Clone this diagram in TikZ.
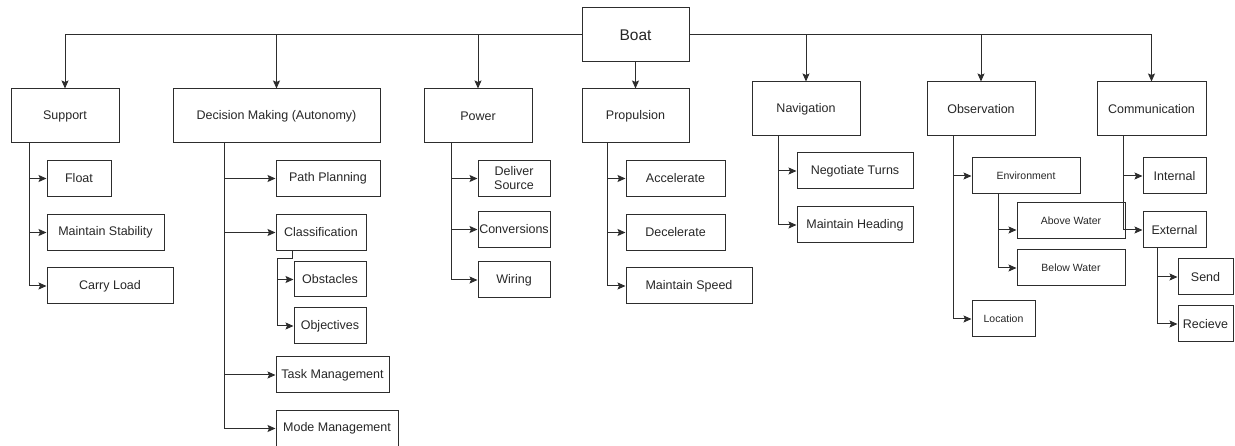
\documentclass[tikz,border=0pt]{standalone}
\usepackage{fontspec}
\setmainfont{Liberation Sans}
\usetikzlibrary{arrows.meta}
\usetikzlibrary{calc}

\definecolor{edgegray}{RGB}{45,45,45}

\begin{document}
\begin{tikzpicture}[x=1pt,y=-1pt,
  box/.style={rectangle,draw=edgegray,line width=1pt,inner sep=0pt,minimum height=36pt,text=black!85,font=\fontsize{12.5}{14}\selectfont,align=center},
  topbox/.style={box,minimum height=54pt},
  smalltext/.style={font=\fontsize{10.5}{12}\selectfont},
  link/.style={draw=edgegray,line width=1pt},
  arr/.style={link,-{Stealth[length=8pt,width=7pt,inset=1.5pt]}}]
\useasboundingbox (0,0) rectangle (1235,446);

\node (boat) [topbox,minimum width=107pt,font=\fontsize{15.5}{17}\selectfont] at (635.5,35) {Boat};
\node (support) [topbox,minimum width=108pt] at (65,116) {Support};
\node (dm) [topbox,minimum width=207pt] at (276.5,116) {Decision Making (Autonomy)};
\node (power) [topbox,minimum width=108pt] at (478,116) {Power};
\node (propulsion) [topbox,minimum width=107pt] at (635.5,116) {Propulsion};
\node (navigation) [topbox,minimum width=108pt] at (806,109) {Navigation};
\node (observation) [topbox,minimum width=108pt] at (981,109) {Observation};
\node (communication) [topbox,minimum width=109pt] at (1151.5,109) {Communication};

\draw[arr] (boat.west) -| (support.north);
\draw[arr] (boat.west) -| (dm.north);
\draw[arr] (boat.west) -| (power.north);
\draw[arr] (boat) -- (propulsion);
\draw[arr] (boat.east) -| (navigation.north);
\draw[arr] (boat.east) -| (observation.north);
\draw[arr] (boat.east) -| (communication.north);

\node (float) [box,minimum width=64pt] at (79,178.5) {Float};
\node (stability) [box,minimum width=117pt] at (105.5,232.5) {Maintain Stability};
\node (carry) [box,minimum width=126pt] at (110,286) {Carry Load};
\coordinate (supportT) at ([xshift=19pt]support.south west);
\draw[arr] (supportT) |- (float.west);
\draw[arr] (supportT) |- (stability.west);
\draw[arr] (supportT) |- (carry.west);

\node (path) [box,minimum width=104pt] at (328,178.5) {Path Planning};
\node (classification) [box,minimum width=90pt] at (321,232.5) {Classification};
\node (obstacles) [box,minimum width=72pt,minimum height=35pt] at (330,279.5) {Obstacles};
\node (objectives) [box,minimum width=72pt] at (330,326) {Objectives};
\node (task) [box,minimum width=113pt] at (332.5,375) {Task Management};
\node (mode) [box,minimum width=122pt,minimum height=35pt] at (337,428.5) {Mode Management};
\coordinate (dmT) at ([xshift=52pt]dm.south west);
\draw[arr] (dmT) |- (path.west);
\draw[arr] (dmT) |- (classification.west);
\draw[arr] (dmT) |- (task.west);
\draw[arr] (dmT) |- (mode.west);
\coordinate (classT) at ([xshift=17pt]classification.south west);
\coordinate (classK) at (277,259);
\draw[link] (classT) |- (classK);
\draw[arr] (classK) |- (obstacles.west);
\draw[arr] (classK) |- (objectives.west);

\node (deliver) [box,minimum width=72pt] at (514,178.5) {Deliver\\Source};
\node (conversions) [box,minimum width=72pt] at (514,229.5) {Conversions};
\node (wiring) [box,minimum width=72pt] at (514,280) {Wiring};
\coordinate (powerT) at ([xshift=28pt]power.south west);
\draw[arr] (powerT) |- (deliver.west);
\draw[arr] (powerT) |- (conversions.west);
\draw[arr] (powerT) |- (wiring.west);

\node (accelerate) [box,minimum width=99pt] at (675.5,178.5) {Accelerate};
\node (decelerate) [box,minimum width=99pt] at (675.5,232.5) {Decelerate};
\node (speed) [box,minimum width=126pt] at (689,286) {Maintain Speed};
\coordinate (propulsionT) at ([xshift=26pt]propulsion.south west);
\draw[arr] (propulsionT) |- (accelerate.west);
\draw[arr] (propulsionT) |- (decelerate.west);
\draw[arr] (propulsionT) |- (speed.west);

\node (turns) [box,minimum width=116pt] at (855,171) {Negotiate Turns};
\node (heading) [box,minimum width=116pt] at (855,225) {Maintain Heading};
\coordinate (navigationT) at ([xshift=27pt]navigation.south west);
\draw[arr] (navigationT) |- (turns.west);
\draw[arr] (navigationT) |- (heading.west);

\node (environment) [box,smalltext,minimum width=108pt] at (1026,176) {Environment};
\node (above) [box,smalltext,minimum width=108pt] at (1071,221) {Above Water};
\node (below) [box,smalltext,minimum width=108pt] at (1071,268) {Below Water};
\node (location) [box,smalltext,minimum width=63pt] at (1003.5,319) {Location};
\coordinate (observationT) at ([xshift=27pt]observation.south west);
\draw[arr] (observationT) |- (environment.west);
\draw[arr] (observationT) |- (location.west);

\node (internal) [box,minimum width=63pt] at (1174.5,176) {Internal};
\node (external) [box,minimum width=63pt] at (1174.5,230) {External};
\node (send) [box,minimum width=55pt] at (1205.5,277) {Send};
\node (recieve) [box,minimum width=55pt] at (1205.5,324) {Recieve};

\coordinate (environmentT) at ([xshift=27pt]environment.south west);
\draw[arr] (environmentT) |- (above.west |- external.west);
\draw[arr] (environmentT) |- (below.west);

\coordinate (communicationT) at ([xshift=27pt]communication.south west);
\draw[arr] (communicationT) |- (internal.west);
\draw[arr] (communicationT) |- (external.west);
\coordinate (externalT) at ([xshift=15pt]external.south west);
\draw[arr] (externalT) |- (send.west);
\draw[arr] (externalT) |- (recieve.west);
\end{tikzpicture}
\end{document}
